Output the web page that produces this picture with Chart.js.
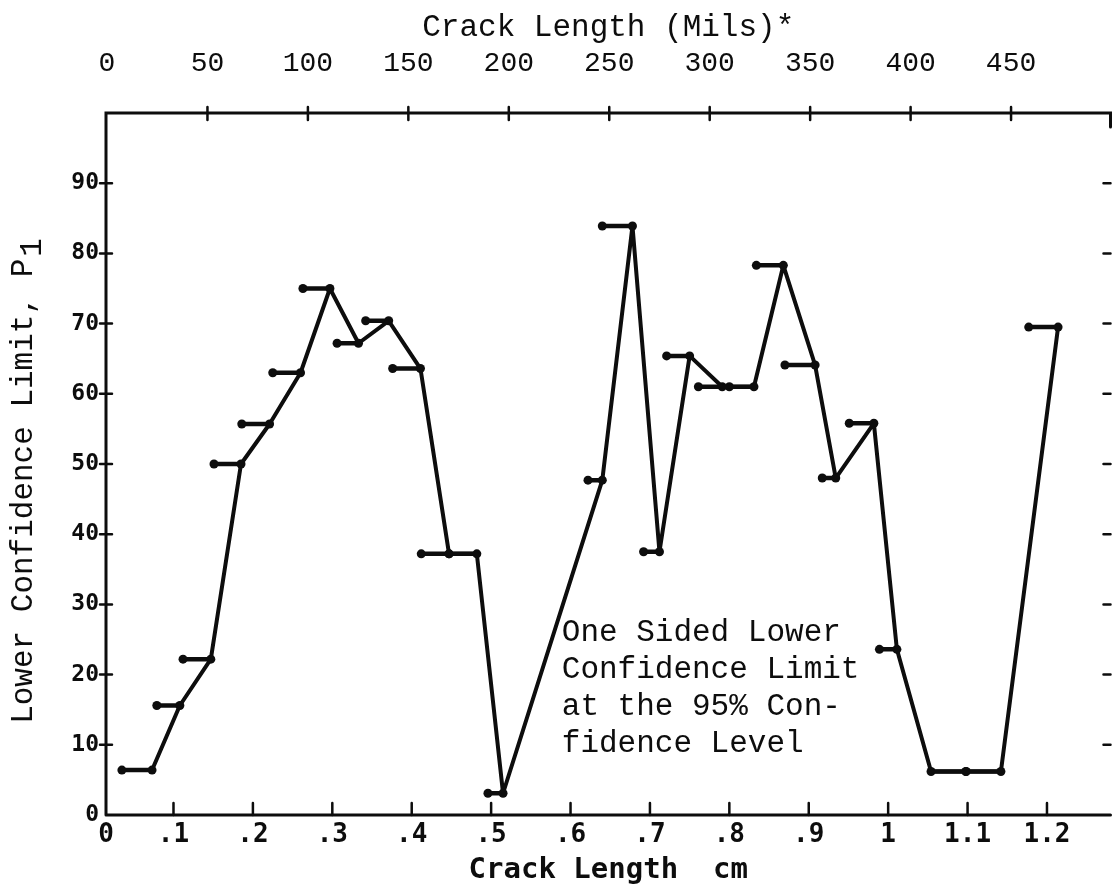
<!DOCTYPE html>
<html>
<head>
<meta charset="utf-8">
<title>Lower Confidence Limit vs Crack Length</title>
<script src="https://cdn.jsdelivr.net/npm/chart.js@4.4.1/dist/chart.umd.min.js"></script>
<style>
  html, body { margin: 0; padding: 0; background: #fff; }
  #wrap { width: 1115px; height: 888px; position: relative; }
</style>
</head>
<body>
<div id="wrap"><canvas id="chart"></canvas></div>
<script>
// right end of each crack length interval (cm), where P1 is plotted
const crackCm = [0.073, 0.108, 0.147, 0.185, 0.221, 0.260, 0.297, 0.333, 0.371, 0.411,
                 0.447, 0.482, 0.515, 0.640, 0.678, 0.712, 0.750, 0.791, 0.831, 0.868,
                 0.908, 0.934, 0.982, 1.011, 1.054, 1.098, 1.142, 1.214];
// left end of the interval bar (null = no bar)
const binStartCm = [0.035, 0.079, 0.112, 0.151, 0.186, 0.225, 0.263, 0.306, 0.342, 0.376,
                    0.412, 0.447, 0.496, 0.622, 0.640, 0.692, 0.721, 0.761, 0.800, 0.834,
                    0.870, 0.917, 0.951, 0.989, null, 1.054, 1.098, 1.177];
// lower confidence limit P1
const p1 = [6.4, 15.6, 22.2, 50, 55.7, 63, 75, 67.2, 70.4, 63.6,
            37.2, 37.2, 3.1, 47.7, 83.9, 37.5, 65.4, 61, 61, 78.3,
            64.1, 48, 55.8, 23.6, 6.2, 6.2, 6.2, 69.5];

const cmTicks = [0, 0.1, 0.2, 0.3, 0.4, 0.5, 0.6, 0.7, 0.8, 0.9, 1.0, 1.1, 1.2];
const cmTickLabels = ['0', '.1', '.2', '.3', '.4', '.5', '.6', '.7', '.8', '.9', '1', '1.1', '1.2'];
const milsTicks = [0, 50, 100, 150, 200, 250, 300, 350, 400, 450];
const p1Ticks = [0, 10, 20, 30, 40, 50, 60, 70, 80, 90];
const noteLines = ['One Sided Lower', 'Confidence Limit', 'at the 95% Con-', 'fidence Level'];
const noteAt = { x: 0.589, y: 26 };

const INK = '#0d0d0d';
const typeFont = "'Liberation Mono', 'DejaVu Sans Mono', monospace";
const dotFont = "'DejaVu Sans Mono', monospace";

const linePts = crackCm.map((x, i) => ({ x: x, y: p1[i] }));
const barPts = [];
binStartCm.forEach((x0, i) => {
  if (x0 === null) return;
  barPts.push({ x: x0, y: p1[i] }, { x: crackCm[i], y: p1[i] }, { x: crackCm[i], y: null });
});

// frame, hand-style tick marks, y title and the note
const framePlugin = {
  id: 'frame',
  afterDraw(chart) {
    const { ctx, chartArea: a, scales } = chart;
    ctx.save();
    ctx.strokeStyle = INK;
    ctx.fillStyle = INK;
    ctx.lineCap = 'round';

    ctx.lineWidth = 3;
    ctx.beginPath();
    ctx.moveTo(a.left, a.bottom); ctx.lineTo(a.left, a.top); ctx.lineTo(a.right, a.top);
    ctx.lineTo(a.right, a.top + 14);
    ctx.moveTo(a.left, a.bottom); ctx.lineTo(a.right, a.bottom);
    ctx.stroke();

    ctx.lineWidth = 2.5;
    ctx.beginPath();
    scales.y.ticks.forEach(t => {
      if (t.value <= 0) return;
      const py = scales.y.getPixelForValue(t.value);
      ctx.moveTo(a.left - 6, py); ctx.lineTo(a.left + 6, py);
      ctx.moveTo(a.right - 7, py); ctx.lineTo(a.right, py);
    });
    scales.x2.ticks.forEach(t => {
      if (t.value <= 0) return;
      const px = scales.x2.getPixelForValue(t.value);
      ctx.moveTo(px, a.top - 6); ctx.lineTo(px, a.top + 7);
    });
    scales.x.ticks.forEach(t => {
      if (t.value < 0.05) return;
      const px = scales.x.getPixelForValue(t.value);
      ctx.moveTo(px, a.bottom); ctx.lineTo(px, a.bottom - 12);
    });
    ctx.stroke();

    // y axis title with subscript
    ctx.save();
    ctx.translate(24, (a.top + a.bottom) / 2 + 18);
    ctx.rotate(-Math.PI / 2);
    ctx.font = '31px ' + typeFont;
    ctx.textBaseline = 'middle';
    ctx.textAlign = 'left';
    const main = 'Lower Confidence Limit, P';
    const w = ctx.measureText(main).width;
    const w1 = ctx.measureText('1').width;
    const x0 = -(w + w1) / 2;
    ctx.fillText(main, x0, 0);
    ctx.fillText('1', x0 + w + 2, 9);
    ctx.restore();

    // note
    ctx.font = '31px ' + typeFont;
    ctx.textAlign = 'left';
    ctx.textBaseline = 'middle';
    const nx = scales.x.getPixelForValue(noteAt.x);
    const ny = scales.y.getPixelForValue(noteAt.y);
    noteLines.forEach((s, i) => ctx.fillText(s, nx, ny + i * 37));
    ctx.restore();
  }
};

new Chart(document.getElementById('chart'), {
  type: 'scatter',
  data: {
    datasets: [
      {
        label: 'P1',
        data: linePts,
        showLine: true,
        borderColor: INK,
        borderWidth: 4,
        borderJoinStyle: 'round',
        borderCapStyle: 'round',
        pointRadius: 0,
        xAxisID: 'x', yAxisID: 'y'
      },
      {
        label: 'interval',
        data: barPts,
        showLine: true,
        spanGaps: false,
        borderColor: INK,
        backgroundColor: INK,
        borderWidth: 4.5,
        pointStyle: 'circle',
        pointRadius: 4.5,
        pointBorderWidth: 0,
        xAxisID: 'x', yAxisID: 'y'
      }
    ]
  },
  options: {
    responsive: true,
    maintainAspectRatio: false,
    animation: false,
    layout: { padding: { right: 3 } },
    plugins: { legend: { display: false }, tooltip: { enabled: false } },
    scales: {
      x: {
        type: 'linear', position: 'bottom', min: 0.015, max: 1.28,
        afterBuildTicks: s => { s.ticks = cmTicks.map(v => ({ value: Math.max(v, s.min) })); },
        afterFit: s => { s.height = 73; },
        grid: { display: false, drawTicks: false },
        border: { display: false },
        ticks: {
          callback: (v, i) => cmTickLabels[i],
          color: INK, padding: 5, maxRotation: 0, autoSkip: false,
          font: { family: dotFont, size: 26, weight: 'bold' }
        },
        title: {
          display: true, text: 'Crack Length  cm', color: INK,
          font: { family: dotFont, size: 29, weight: 'bold', lineHeight: 1.2 },
          padding: { top: 0, bottom: 0 }
        }
      },
      x2: {
        type: 'linear', position: 'top', min: -0.5, max: 499.5,
        afterBuildTicks: s => { s.ticks = milsTicks.map(v => ({ value: v })); },
        afterFit: s => { s.height = 113; },
        grid: { display: false, drawTicks: false },
        border: { display: false },
        ticks: {
          color: INK, padding: 33, maxRotation: 0, autoSkip: false,
          font: { family: typeFont, size: 28 }
        },
        title: {
          display: true, text: 'Crack Length (Mils)*', color: INK,
          font: { family: typeFont, size: 31, lineHeight: 1.2 },
          padding: { top: 9, bottom: 0 }
        }
      },
      y: {
        type: 'linear', position: 'left', min: 0, max: 100,
        afterBuildTicks: s => { s.ticks = p1Ticks.map(v => ({ value: v })); },
        afterFit: s => { s.width = 106; },
        grid: { display: false, drawTicks: false },
        border: { display: false },
        ticks: {
          color: INK, padding: 7,
          font: { family: dotFont, size: 23, weight: 'bold' }
        }
      }
    }
  },
  plugins: [framePlugin]
});
</script>
</body>
</html>
